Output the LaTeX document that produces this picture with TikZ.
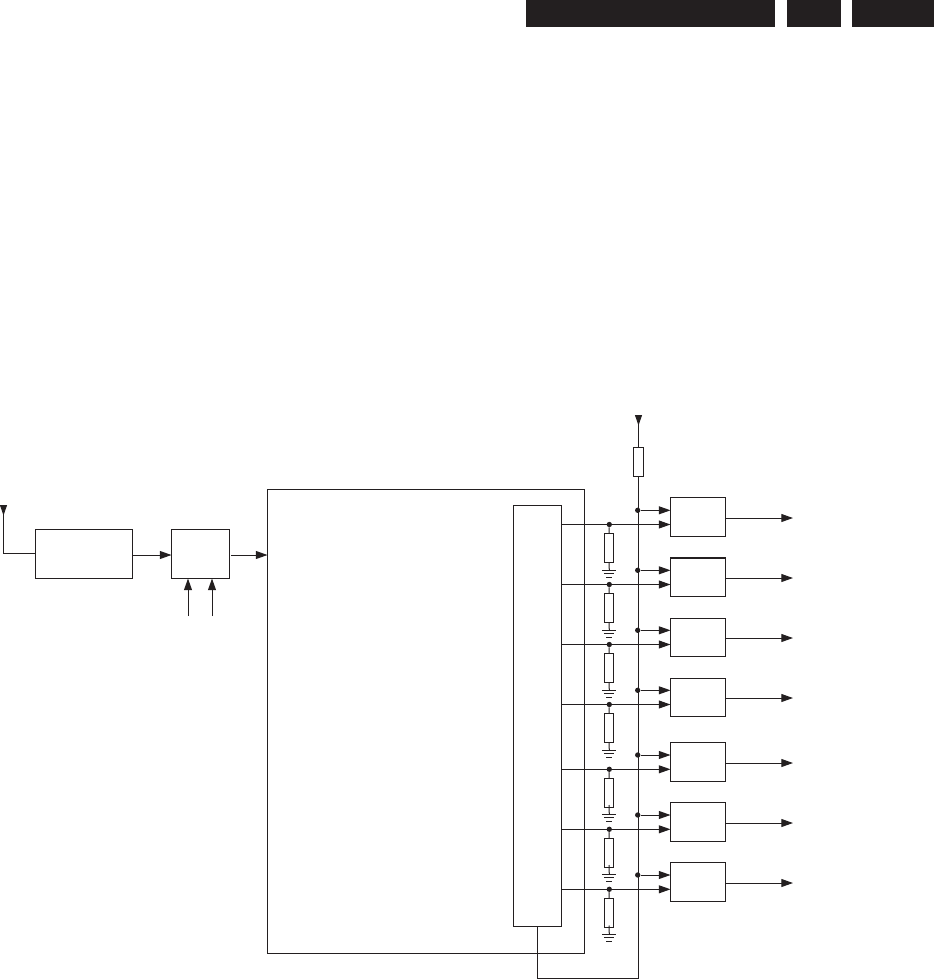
\documentclass[tikz,border=0pt]{standalone}
\usetikzlibrary{arrows.meta}
\definecolor{inkc}{HTML}{231F20}
\tikzset{
  blockbox/.style={draw=inkc,line width=0.75pt,inner sep=0pt,outer sep=0pt},
  outbox/.style={blockbox,minimum width=41.25pt,minimum height=29pt},
  resbox/.style={blockbox,minimum width=6.75pt,minimum height=21.75pt},
  headbar/.style={fill=inkc,inner sep=0pt,outer sep=0pt,minimum height=20.25pt},
  junc/.style={circle,fill=inkc,inner sep=0pt,minimum size=4pt},
  wire/.style={draw=inkc,line width=0.75pt},
  conn/.style={wire,-{Triangle[length=8.8pt,width=6pt]}},
  supply/.style={wire,-{Triangle[reversed,length=8pt,width=5.2pt]}}
}
\newcommand{\gndmark}[1]{\draw [wire] (#1) ++(-7,0) -- ++(14,0) (#1) ++(-5,3.5) -- ++(10,0) (#1) ++(-3,7) -- ++(6,0);}
\begin{document}
\begin{tikzpicture}[x=0.75pt,y=0.75pt,yscale=-1,xscale=1]
\useasboundingbox (0,0) rectangle (934,979);

% Header bars
\node [headbar,minimum width=186.75pt] (bar1) at (650.5,13.5) {};
\node [headbar,minimum width=40.5pt] (bar2) at (814,13.5) {};
\node [headbar,minimum width=61.5pt] (bar3) at (893,13.5) {};

% Left blocks
\node [blockbox,minimum width=72.75pt,minimum height=36.75pt] (tuner) at (84,554) {};
\node [blockbox,minimum width=43.5pt,minimum height=36.75pt] (mixer) at (200.5,554) {};
\node [blockbox,minimum width=237.75pt,minimum height=348pt] (mainbox) at (426,721.5) {};
\node [blockbox,minimum width=36pt,minimum height=315.4pt] (portbox) at (537.5,715.8) {};

% Output blocks
\node [outbox] (out1) at (698,517) {};
\node [outbox] (out2) at (698,577) {};
\node [outbox] (out3) at (698,637.5) {};
\node [outbox] (out4) at (698,697.5) {};
\node [outbox] (out5) at (698,762) {};
\node [outbox] (out6) at (698,822) {};
\node [outbox] (out7) at (698,882) {};

% Resistors
\node [blockbox,minimum width=7.5pt,minimum height=21.75pt] (rtop) at (638.5,462) {};
\node [resbox] (res1) at (609,547.7) {};
\node [resbox] (res2) at (609,608) {};
\node [resbox] (res3) at (609,668) {};
\node [resbox] (res4) at (609,728) {};
\node [resbox] (res5) at (609,792.5) {};
\node [resbox] (res6) at (609,852.5) {};
\node [resbox] (res7) at (609,913) {};

% Free ends
\coordinate (antenna) at (3.5,505);
\coordinate (ctrla) at (188,616);
\coordinate (ctrlb) at (212,616);
\coordinate (feed) at (638.5,415);
\coordinate (busend) at (638.5,978);
\coordinate (end1) at (793,518);
\coordinate (end2) at (793,578);
\coordinate (end3) at (793,638);
\coordinate (end4) at (793,698);
\coordinate (end5) at (793,763);
\coordinate (end6) at (793,823);
\coordinate (end7) at (793,883);
\coordinate (gnd1) at (609.3,570);
\coordinate (gnd2) at (609.3,630);
\coordinate (gnd3) at (609.3,690);
\coordinate (gnd4) at (609.3,750);
\coordinate (gnd5) at (609.3,814.3);
\coordinate (gnd6) at (609.3,874.3);
\coordinate (gnd7) at (609.3,934.3);

% Junctions on the bus
\node [junc] (bus1) at (637.7,510.3) {};
\node [junc] (bus2) at (637.7,570.3) {};
\node [junc] (bus3) at (637.7,630.3) {};
\node [junc] (bus4) at (637.7,690.3) {};
\node [junc] (bus5) at (637.7,755) {};
\node [junc] (bus6) at (637.7,815) {};
\node [junc] (bus7) at (637.7,875) {};

% Junctions on the port lines
\node [junc] (tap1) at (609.3,524.5) {};
\node [junc] (tap2) at (609.3,584.5) {};
\node [junc] (tap3) at (609.3,644.5) {};
\node [junc] (tap4) at (609.3,704.5) {};
\node [junc] (tap5) at (609.3,769.3) {};
\node [junc] (tap6) at (609.3,829.3) {};
\node [junc] (tap7) at (609.3,889.3) {};

% Ground symbols
\gndmark{gnd1}
\gndmark{gnd2}
\gndmark{gnd3}
\gndmark{gnd4}
\gndmark{gnd5}
\gndmark{gnd6}
\gndmark{gnd7}

% Connection
\draw [supply] (tuner.west |- 0,553) -| (antenna);
\draw [conn] (tuner.east |- 0,555) -- (mixer.west |- 0,555);
\draw [conn] ([xshift=1.2pt]mixer.east |- 0,555) -- (mainbox.west |- 0,555);
\draw [conn] (ctrla) -- (ctrla |- mixer.south);
\draw [conn] (ctrlb) -- (ctrlb |- mixer.south);

% Connection
\draw [supply] (rtop.north) -- (feed);
\draw [wire] (rtop.south) -- (busend) -| (portbox.south);

% Connection
\draw [conn] (bus1) -- (bus1 -| out1.west);
\draw [conn] (bus2) -- (bus2 -| out2.west);
\draw [conn] (bus3) -- (bus3 -| out3.west);
\draw [conn] (bus4) -- (bus4 -| out4.west);
\draw [conn] (bus5) -- (bus5 -| out5.west);
\draw [conn] (bus6) -- (bus6 -| out6.west);
\draw [conn] (bus7) -- (bus7 -| out7.west);

% Connection
\draw [conn] (tap1 -| portbox.east) -- (tap1 -| out1.west);
\draw [conn] (tap2 -| portbox.east) -- (tap2 -| out2.west);
\draw [conn] (tap3 -| portbox.east) -- (tap3 -| out3.west);
\draw [conn] (tap4 -| portbox.east) -- (tap4 -| out4.west);
\draw [conn] (tap5 -| portbox.east) -- (tap5 -| out5.west);
\draw [conn] (tap6 -| portbox.east) -- (tap6 -| out6.west);
\draw [conn] (tap7 -| portbox.east) -- (tap7 -| out7.west);

% Connection
\draw [wire] (tap1) -- (res1.north) (res1.south) -- (gnd1);
\draw [wire] (tap2) -- (res2.north) (res2.south) -- (gnd2);
\draw [wire] (tap3) -- (res3.north) (res3.south) -- (gnd3);
\draw [wire] (tap4) -- (res4.north) (res4.south) -- (gnd4);
\draw [wire] (tap5) -- (res5.north) (res5.south) ++(0,-2) -- (gnd5);
\draw [wire] (tap6) -- (res6.north) (res6.south) ++(0,-2) -- (gnd6);
\draw [wire] (tap7) -- (res7.north) (res7.south) ++(0,-2) -- (gnd7);

% Connection
\draw [conn] (out1.east |- end1) -- (end1);
\draw [conn] (out2.east |- end2) -- (end2);
\draw [conn] (out3.east |- end3) -- (end3);
\draw [conn] (out4.east |- end4) -- (end4);
\draw [conn] (out5.east |- end5) -- (end5);
\draw [conn] (out6.east |- end6) -- (end6);
\draw [conn] (out7.east |- end7) -- (end7);

% Heavier top edge of the second block
\draw [draw=inkc,line width=1.5pt] (out2.north west) -- (out2.north east);

\end{tikzpicture}
\end{document}
